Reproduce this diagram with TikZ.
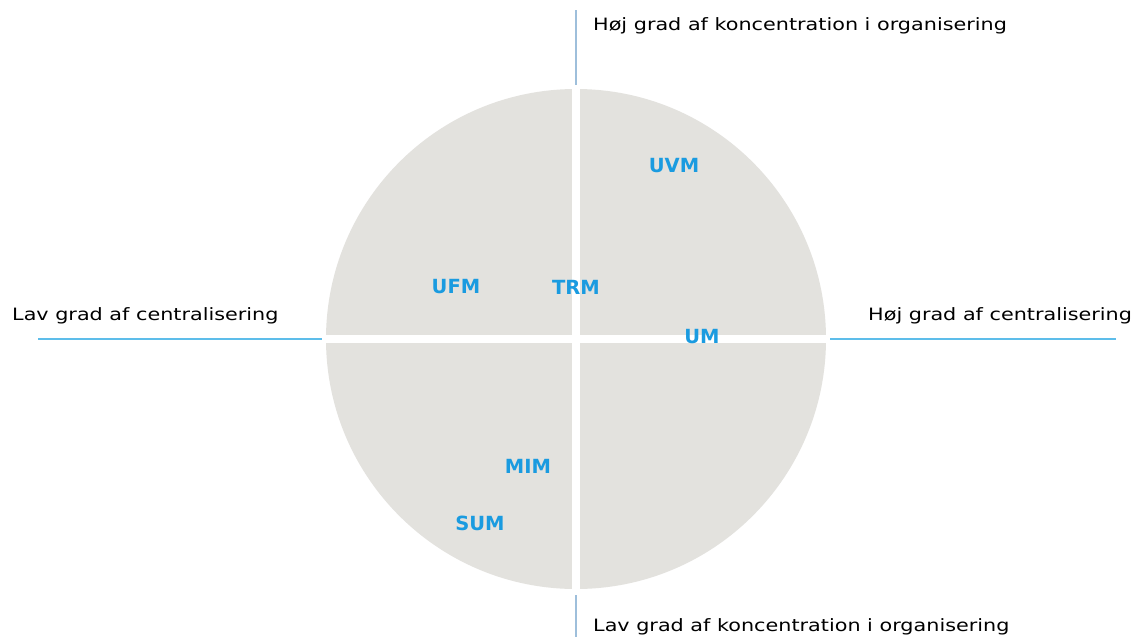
\documentclass[tikz,border=0pt]{standalone}
\usepackage{fontspec}
\setmainfont{DejaVu Sans}
\newfontfamily\axisfont{DejaVu Sans}[FakeStretch=1.22]
\definecolor{discfill}{HTML}{E3E2DE}
\definecolor{vline}{HTML}{9EBFDB}
\definecolor{hline}{HTML}{5DBDEA}
\definecolor{lblue}{HTML}{1A9BE0}
\begin{document}
\begin{tikzpicture}[x=1pt,y=-1pt,
  axislabel/.style={anchor=base west,inner sep=0pt,font=\axisfont\fontsize{17}{19}\selectfont,text=black},
  unit/.style={inner sep=0pt,font=\fontsize{19.5}{21}\bfseries\selectfont,text=lblue}]
\useasboundingbox[fill=white] (0,0) rectangle (1140,637);
% disc
\fill[discfill] (576,339) circle[radius=250];
\fill[white] (572,80) rectangle (580,600);
\fill[white] (320,335) rectangle (832,343);
% axis lines
\coordinate (t1) at (576,10); \coordinate (t2) at (576,85);
\coordinate (b1) at (576,595); \coordinate (b2) at (576,637);
\coordinate (l1) at (38,339); \coordinate (l2) at (322,339);
\coordinate (r1) at (830,339); \coordinate (r2) at (1116,339);
\draw[vline,line width=1.3pt] (t1) -- (t2);
\draw[vline,line width=1.3pt] (b1) -- (b2);
\draw[hline,line width=1.3pt] (l1) -- (l2);
\draw[hline,line width=1.3pt] (r1) -- (r2);
% axis labels
\node[axislabel] (top) at (593,30.5) {Høj grad af koncentration i organisering};
\node[axislabel] (bottom) at (593,631) {Lav grad af koncentration i organisering};
\node[axislabel] (left) at (12,320.5) {Lav grad af centralisering};
\node[axislabel] (right) at (868,320.5) {Høj grad af centralisering};
% units
\node[unit] (uvm) at (674,166) {UVM};
\node[unit] (ufm) at (456,287) {UFM};
\node[unit] (trm) at (576,287) {TRM};
\node[unit] (um) at (702,337) {UM};
\node[unit] (mim) at (528,466) {MIM};
\node[unit] (sum) at (480,523) {SUM};
\end{tikzpicture}
\end{document}
